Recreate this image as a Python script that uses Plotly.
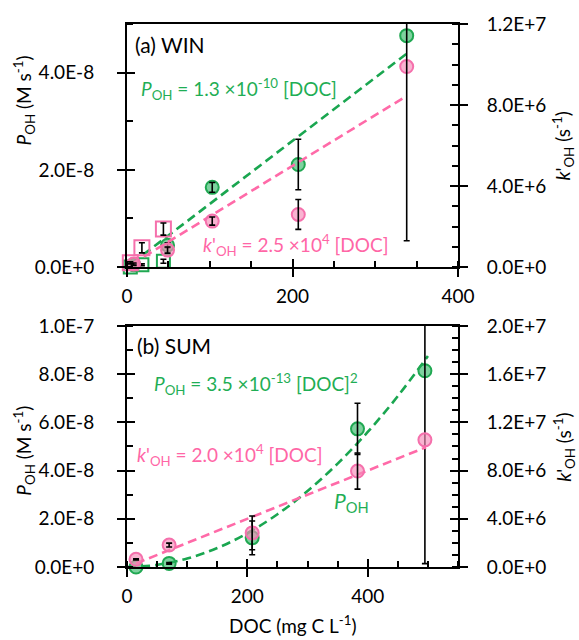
import plotly.graph_objects as go

# ---------------- data ----------------
# Panel (a) WIN
win_circ_doc = [8, 49, 103, 207, 338]
win_circ_poh = [0.5e-9, 4.5e-9, 1.64e-8, 2.11e-8, 4.76e-8]
win_circ_poh_err = [0.2e-9, 0.5e-9, 1.0e-9, 5.2e-9, None]
win_circ_k = [1.5e5, 8.4e5, 2.27e6, 2.6e6, 9.9e6]
win_circ_k_err = [0.5e5, 1.5e5, 2.0e5, 7.4e5, 8.6e6]

win_sq_doc = [4, 18, 44]
win_sq_poh = [0.0, 0.5e-9, 1.2e-9]
win_sq_poh_err = [None, 0.2e-9, 0.4e-9]
win_sq_k = [2.1e5, 9.5e5, 1.88e6]
win_sq_k_err = [0.5e5, 2.5e5, 3.0e5]

win_fit_doc = [6, 338]
win_fit_poh = [0.78e-9, 4.39e-8]   # 1.3e-10 [DOC]
win_fit_k = [1.5e5, 8.45e6]        # 2.5e4 [DOC]

# Panel (b) SUM
sum_doc = [15, 70, 208, 383, 495]
sum_poh = [0.0, 1.5e-9, 1.21e-8, 5.73e-8, 8.14e-8]
sum_poh_err = [None, 0.3e-9, 0.7e-8, 1.06e-8, 8.0e-8]
sum_k = [6.4e5, 1.82e6, 2.83e6, 7.96e6, 1.055e7]
sum_k_err = [0.5e5, 1.6e5, 1.4e6, 1.5e6, None]

sum_fit_poh_doc = [0, 50, 100, 150, 200, 250, 300, 350, 400, 450, 500]
sum_fit_poh = [0.0, 8.75e-10, 3.5e-9, 7.875e-9, 1.4e-8, 2.1875e-8,
               3.15e-8, 4.2875e-8, 5.6e-8, 7.0875e-8, 8.75e-8]  # 3.5e-13 [DOC]^2
sum_fit_k_doc = [15, 497]
sum_fit_k = [3.0e5, 9.94e6]        # 2.0e4 [DOC]

# ticks
x_top_ticks = [0, 200, 400]
x_bot_ticks = [0, 200, 400]
y_top_left_vals = [0, 2e-8, 4e-8]
y_top_left_text = ["0.0E+0", "2.0E-8", "4.0E-8"]
y_top_right_vals = [0, 4e6, 8e6, 1.2e7]
y_top_right_text = ["0.0E+0", "4.0E+6", "8.0E+6", "1.2E+7"]
y_bot_left_vals = [0, 2e-8, 4e-8, 6e-8, 8e-8, 1e-7]
y_bot_left_text = ["0.0E+0", "2.0E-8", "4.0E-8", "6.0E-8", "8.0E-8", "1.0E-7"]
y_bot_right_vals = [0, 4e6, 8e6, 1.2e7, 1.6e7, 2.0e7]
y_bot_right_text = ["0.0E+0", "4.0E+6", "8.0E+6", "1.2E+7", "1.6E+7", "2.0E+7"]

# ---------------- style ----------------
FONT = "Lato"
GREEN_LINE = "#1aa650"
GREEN_FILL = "rgba(40,180,95,0.6)"
GREEN_EDGE = "#20a852"
PINK_LINE = "#ff6aa8"
PINK_FILL = "rgba(246,140,185,0.65)"
PINK_EDGE = "#f570ac"
PINK_TEXT = "#ff66a6"
GREEN_TEXT = "#1fae55"
DASH = "9px,5px"

fig = go.Figure()


def fitline(x, y, xa, ya, color, shape="linear"):
    fig.add_trace(go.Scatter(x=x, y=y, xaxis=xa, yaxis=ya, mode="lines",
                             line=dict(color=color, width=2.6, dash=DASH, shape=shape),
                             showlegend=False, hoverinfo="skip"))


def markers(x, y, xa, ya, symbol, fill, edge, size):
    fig.add_trace(go.Scatter(x=x, y=y, xaxis=xa, yaxis=ya, mode="markers",
                             marker=dict(symbol=symbol, size=size, color=fill,
                                         line=dict(color=edge, width=2)),
                             cliponaxis=False, showlegend=False))


def errs(x, y, e, xa, ya):
    keep = [i for i, v in enumerate(e) if v is not None]
    fig.add_trace(go.Scatter(x=[x[i] for i in keep], y=[y[i] for i in keep],
                             xaxis=xa, yaxis=ya, mode="markers",
                             marker=dict(size=1, color="rgba(0,0,0,0)"),
                             error_y=dict(type="data", array=[e[i] for i in keep], visible=True,
                                          color="black", thickness=1.6, width=3),
                             cliponaxis=True, showlegend=False, hoverinfo="skip"))


# top panel (x, y left; x, y2 right)
fitline(win_fit_doc, win_fit_poh, "x", "y", GREEN_LINE)
markers(win_sq_doc, win_sq_poh, "x", "y", "square-open", GREEN_EDGE, GREEN_EDGE, 13)
markers(win_circ_doc, win_circ_poh, "x", "y", "circle", GREEN_FILL, GREEN_EDGE, 13)
errs(win_circ_doc, win_circ_poh, win_circ_poh_err, "x", "y")
errs(win_sq_doc, win_sq_poh, win_sq_poh_err, "x", "y")

fitline(win_fit_doc, win_fit_k, "x", "y2", PINK_LINE)
markers(win_sq_doc, win_sq_k, "x", "y2", "square-open", PINK_EDGE, PINK_EDGE, 15)
markers(win_circ_doc, win_circ_k, "x", "y2", "circle", PINK_FILL, PINK_EDGE, 13)
errs(win_circ_doc, win_circ_k, win_circ_k_err, "x", "y2")
errs(win_sq_doc, win_sq_k, win_sq_k_err, "x", "y2")

# bottom panel (x2, y3 left; x2, y4 right)
fitline(sum_fit_poh_doc, sum_fit_poh, "x2", "y3", GREEN_LINE, shape="spline")
markers(sum_doc, sum_poh, "x2", "y3", "circle", GREEN_FILL, GREEN_EDGE, 13)
errs(sum_doc, sum_poh, sum_poh_err, "x2", "y3")

fitline(sum_fit_k_doc, sum_fit_k, "x2", "y4", PINK_LINE)
markers(sum_doc, sum_k, "x2", "y4", "circle", PINK_FILL, PINK_EDGE, 13)
errs(sum_doc, sum_k, sum_k_err, "x2", "y4")

# dummy traces so companion (inside-tick) axes are drawn
for xa, ya in [("x3", "y"), ("x4", "y3"), ("x", "y5"), ("x", "y6"), ("x2", "y7"), ("x2", "y8")]:
    fig.add_trace(go.Scatter(x=[None], y=[None], xaxis=xa, yaxis=ya, mode="markers",
                             showlegend=False, hoverinfo="skip"))

TOP = [0.5523, 1.0]
BOT = [0.0, 0.444]
tickfont = dict(family=FONT, size=19, color="black")

common_x = dict(showline=True, linecolor="black", linewidth=2, mirror=True,
                ticks="outside", ticklen=8, tickwidth=2, tickcolor="black",
                showgrid=False, zeroline=False, tickfont=tickfont,
                ticklabelstandoff=3,
                minor=dict(dtick=50, tick0=0, ticks="inside", ticklen=6,
                           tickwidth=1.5, tickcolor="black", showgrid=False))
common_y = dict(showline=True, linecolor="black", linewidth=2,
                ticks="outside", ticklen=8, tickwidth=2, tickcolor="black",
                showgrid=False, zeroline=False, tickfont=tickfont,
                tickmode="array")

comp = dict(showline=False, showgrid=False, zeroline=False, showticklabels=False,
            ticks="inside", ticklen=8, tickwidth=2, tickcolor="black", tickmode="array")

fig.update_layout(
    width=579, height=640,
    margin=dict(l=127, r=121, t=22, b=73),
    paper_bgcolor="white", plot_bgcolor="white",
    font=dict(family=FONT, size=19, color="black"),
    xaxis=dict(domain=[0, 1], anchor="y", range=[0, 400],
               tickmode="array", tickvals=x_top_ticks, **common_x),
    xaxis2=dict(domain=[0, 1], anchor="y3", range=[0, 550],
                tickmode="array", tickvals=x_bot_ticks, **common_x),
    yaxis=dict(domain=TOP, anchor="x", range=[0, 5e-8], side="left",
               tickvals=y_top_left_vals, ticktext=y_top_left_text,
               ticklabelstandoff=19,
               minor=dict(dtick=1e-8, tick0=0, ticks="inside", ticklen=6,
                          tickwidth=1.5, tickcolor="black"),
               **common_y),
    yaxis2=dict(overlaying="y", anchor="x", range=[0, 1.2e7], side="right",
                tickvals=y_top_right_vals, ticktext=y_top_right_text,
                ticklabelstandoff=15,
                minor=dict(dtick=1e6, tick0=0, ticks="inside", ticklen=6,
                           tickwidth=1.5, tickcolor="black"),
                **common_y),
    yaxis3=dict(domain=BOT, anchor="x2", range=[0, 1e-7], side="left",
                tickvals=y_bot_left_vals, ticktext=y_bot_left_text,
                ticklabelstandoff=19,
                minor=dict(dtick=1e-8, tick0=0, ticks="inside", ticklen=6,
                           tickwidth=1.5, tickcolor="black"),
                **common_y),
    yaxis4=dict(overlaying="y3", anchor="x2", range=[0, 2e7], side="right",
                tickvals=y_bot_right_vals, ticktext=y_bot_right_text,
                ticklabelstandoff=15,
                minor=dict(dtick=1e6, tick0=0, ticks="inside", ticklen=6,
                           tickwidth=1.5, tickcolor="black"),
                **common_y),
    # companion axes: inner half of crossing major ticks
    xaxis3=dict(overlaying="x", anchor="y", range=[0, 400], side="bottom",
                tickvals=x_top_ticks, **comp),
    xaxis4=dict(overlaying="x2", anchor="y3", range=[0, 550], side="bottom",
                tickvals=x_bot_ticks, **comp),
    yaxis5=dict(overlaying="y", anchor="x", range=[0, 5e-8], side="left",
                tickvals=y_top_left_vals, **comp),
    yaxis6=dict(overlaying="y", anchor="x", range=[0, 1.2e7], side="right",
                tickvals=y_top_right_vals, **comp),
    yaxis7=dict(overlaying="y3", anchor="x2", range=[0, 1e-7], side="left",
                tickvals=y_bot_left_vals, **comp),
    yaxis8=dict(overlaying="y3", anchor="x2", range=[0, 2e7], side="right",
                tickvals=y_bot_right_vals, **comp),
    showlegend=False,
)

ann = []


def text(s, xd, yd, xref, yref, color="black", size=19, xanchor="left", angle=0, yanchor="middle"):
    ann.append(dict(text=s, x=xd, y=yd, xref=xref, yref=yref, showarrow=False,
                    xanchor=xanchor, yanchor=yanchor, textangle=angle,
                    font=dict(family=FONT, size=size, color=color)))


text("(a) WIN", 0.018, 0.914, "x domain", "y domain", size=21)
text("<i>P</i><sub>OH</sub> = 1.3 ×10<sup>-10</sup> [DOC]", 0.035, 0.734,
     "x domain", "y domain", color=GREEN_TEXT)
text("<i>k</i>'<sub>OH</sub> = 2.5 ×10<sup>4</sup> [DOC]", 0.225, 0.09,
     "x domain", "y domain", color=PINK_TEXT)

text("(b) SUM", 0.025, 0.917, "x2 domain", "y3 domain", size=21)
text("<i>P</i><sub>OH</sub> = 3.5 ×10<sup>-13</sup> [DOC]<sup>2</sup>", 0.075, 0.76,
     "x2 domain", "y3 domain", color=GREEN_TEXT)
text("<i>k</i>'<sub>OH</sub> = 2.0 ×10<sup>4</sup> [DOC]", 0.025, 0.463,
     "x2 domain", "y3 domain", color=PINK_TEXT)
text("<i>P</i><sub>OH</sub>", 0.62, 0.27, "x2 domain", "y3 domain", color=GREEN_TEXT, size=21)

# axis titles
text("<i>P</i><sub>OH</sub> (M s<sup>-1</sup>)", -0.31, 0.86, "paper", "paper",
     xanchor="center", angle=-90)
text("<i>P</i><sub>OH</sub> (M s<sup>-1</sup>)", -0.31, 0.215, "paper", "paper",
     xanchor="center", angle=-90)
text("<i>k</i>'<sub>OH</sub> (s<sup>-1</sup>)", 1.318, 0.775, "paper", "paper",
     xanchor="center", angle=-90)
text("<i>k</i>'<sub>OH</sub> (s<sup>-1</sup>)", 1.318, 0.22, "paper", "paper",
     xanchor="center", angle=-90)
text("DOC (mg C L<sup>-1</sup>)", 0.5, -0.106, "paper", "paper", xanchor="center")

fig.update_layout(annotations=ann)
fig.write_html("out.html")
